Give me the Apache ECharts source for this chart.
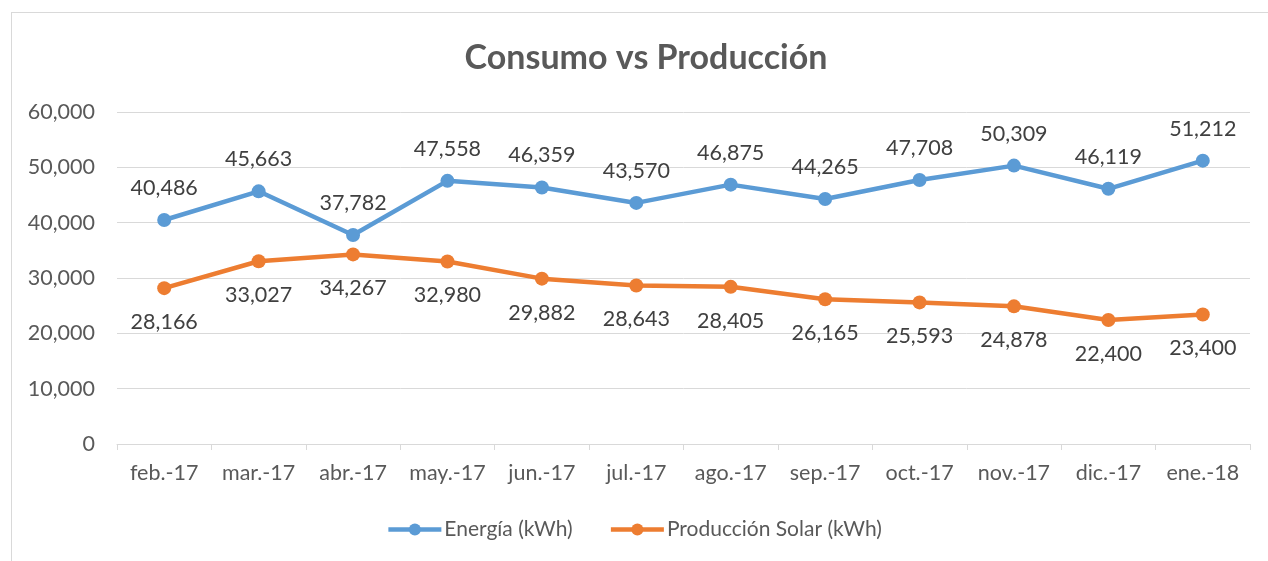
<!DOCTYPE html>
<html><head><meta charset="utf-8">
<script src="https://cdn.jsdelivr.net/npm/echarts@6/dist/echarts.min.js"></script>
<style>
html,body{margin:0;padding:0;background:#fff;}
#frame{position:absolute;left:11px;top:12px;width:1300px;height:600px;border:1px solid #d9d9d9;box-sizing:border-box;}
#c{position:absolute;left:0;top:0;width:1268px;height:561px;}
</style></head>
<body>
<div id="frame"></div>
<div id="c"></div>
<script>
var categories = ['feb.-17','mar.-17','abr.-17','may.-17','jun.-17','jul.-17','ago.-17','sep.-17','oct.-17','nov.-17','dic.-17','ene.-18'];
var energia = [40486,45663,37782,47558,46359,43570,46875,44265,47708,50309,46119,51212];
var solar = [28166,33027,34267,32980,29882,28643,28405,26165,25593,24878,22400,23400];
var yTicks = [0,10000,20000,30000,40000,50000,60000];

var font = 'Lato, "Open Sans", sans-serif';
function fmt(v){ return v.toLocaleString('en-US'); }
var chart = echarts.init(document.getElementById('c'));
chart.setOption({
  animation:false,
  backgroundColor:'transparent',
  title:{text:'Consumo vs Producción',left:641,top:36,textAlign:'center',
    textStyle:{fontFamily:font,fontSize:34,fontWeight:'bold',color:'#595959'}},
  legend:{bottom:16,left:'center',itemWidth:53,itemHeight:15,itemGap:36,
    lineStyle:{width:4.5},
    textStyle:{fontFamily:font,fontSize:21,color:'#595959',padding:[0,0,0,-2]},
    data:['Energía (kWh)','Producción Solar (kWh)']},
  grid:{left:117,right:18,top:112,bottom:117},
  xAxis:{type:'category',data:categories,boundaryGap:true,
    axisLine:{lineStyle:{color:'#d9d9d9',width:1}},
    axisTick:{show:true,length:6,interval:0,lineStyle:{color:'#d9d9d9'}},
    axisLabel:{fontFamily:font,fontSize:21.5,color:'#595959',margin:18,interval:0}},
  yAxis:{type:'value',min:yTicks[0],max:yTicks[yTicks.length-1],interval:10000,
    axisLine:{show:false},axisTick:{show:false},
    splitLine:{lineStyle:{color:'#d9d9d9',width:1}},
    axisLabel:{fontFamily:font,fontSize:21.5,color:'#595959',margin:22,formatter:function(v){return fmt(v);}}},
  series:[
    {name:'Energía (kWh)',type:'line',data:energia,color:'#5b9bd5',
     symbol:'circle',symbolSize:14,lineStyle:{width:4.5},
     label:{show:true,position:'top',distance:14,fontFamily:font,fontSize:21.5,color:'#404040',formatter:function(p){return fmt(p.value);}}},
    {name:'Producción Solar (kWh)',type:'line',data:solar,color:'#ed7d31',
     symbol:'circle',symbolSize:14,lineStyle:{width:4.5},
     label:{show:true,position:'bottom',distance:16,fontFamily:font,fontSize:21.5,color:'#404040',formatter:function(p){return fmt(p.value);}}}
  ]
});
</script>
</body></html>
